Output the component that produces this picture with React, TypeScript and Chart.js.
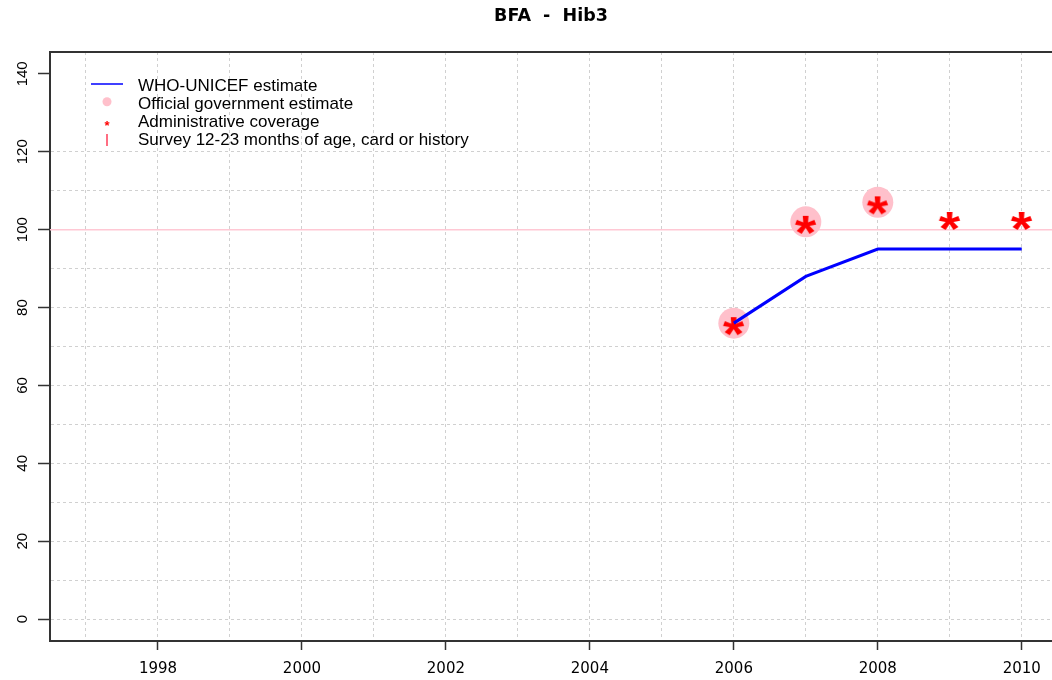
import React, { useEffect, useRef } from "react";
import { Chart, registerables } from "chart.js";

Chart.register(...registerables);

// ---------- data ----------
const chartTitle = "BFA  -  Hib3";
const whoYears = [2006, 2007, 2008, 2009, 2010];
const whoUnicef = [76, 88, 95, 95, 95];
const govYears = [2006, 2007, 2008];
const govEstimate = [76, 102, 107];
const adminYears = [2006, 2007, 2008, 2009, 2010];
const adminCoverage = [76, 102, 107, 103, 103];
const referenceLevel = 100;
const xGridYears = [1997, 1998, 1999, 2000, 2001, 2002, 2003, 2004, 2005, 2006, 2007, 2008, 2009, 2010];
const yGridValues = [0, 10, 20, 30, 40, 50, 60, 70, 80, 90, 100, 110, 120, 130, 140];
const legendLabels = [
  "WHO-UNICEF estimate",
  "Official government estimate",
  "Administrative coverage",
  "Survey 12-23 months of age, card or history",
];

const X_MIN = 1996.5;
const X_MAX = 2010.42;
const Y_MIN = -5.6;
const Y_MAX = 145.6;

const ARIAL = '"Liberation Sans", Arial, sans-serif';
const DEJAVU = '"DejaVu Sans", sans-serif';

function makeAsterisk(): HTMLCanvasElement {
  const c = document.createElement("canvas");
  c.width = 40;
  c.height = 40;
  const ctx = c.getContext("2d")!;
  ctx.fillStyle = "#ff0000";
  ctx.font = `bold 100px ${ARIAL}`;
  const m = ctx.measureText("*");
  const h = m.actualBoundingBoxAscent + m.actualBoundingBoxDescent;
  const size = (100 * 18) / h;
  ctx.font = `bold ${size}px ${ARIAL}`;
  const m2 = ctx.measureText("*");
  const w2 = m2.actualBoundingBoxLeft + m2.actualBoundingBoxRight;
  const sx = 22 / w2;
  const cx = (m2.actualBoundingBoxRight - m2.actualBoundingBoxLeft) / 2;
  const cy = (m2.actualBoundingBoxDescent - m2.actualBoundingBoxAscent) / 2;
  ctx.save();
  ctx.translate(20, 23);
  ctx.scale(sx, 1);
  ctx.textAlign = "left";
  ctx.textBaseline = "alphabetic";
  ctx.fillText("*", -cx, -cy);
  ctx.restore();
  return c;
}

const frameAndLegend = {
  id: "frameAndLegend",
  afterDraw(chart: any) {
    const ctx = chart.ctx as CanvasRenderingContext2D;
    const area = chart.chartArea;
    ctx.save();
    // top frame line
    ctx.strokeStyle = "#333333";
    ctx.lineWidth = 2;
    ctx.beginPath();
    ctx.moveTo(area.left - 1, area.top);
    ctx.lineTo(area.right, area.top);
    ctx.stroke();

    // legend
    const symX = 107;
    const textX = 138;
    const base0 = 91.3;
    const step = 17.8;
    ctx.strokeStyle = "#0000ff";
    ctx.lineWidth = 1.5;
    ctx.beginPath();
    ctx.moveTo(91, 84);
    ctx.lineTo(123, 84);
    ctx.stroke();
    ctx.fillStyle = "#ffc0cb";
    ctx.beginPath();
    ctx.arc(symX, 101.7, 4.5, 0, Math.PI * 2);
    ctx.fill();
    ctx.fillStyle = "#ff0000";
    ctx.font = `bold 13px ${ARIAL}`;
    ctx.textAlign = "center";
    ctx.textBaseline = "alphabetic";
    ctx.fillText("*", symX, 129.5);
    ctx.strokeStyle = "#ff2040";
    ctx.lineWidth = 1.3;
    ctx.beginPath();
    ctx.moveTo(symX, 134);
    ctx.lineTo(symX, 146);
    ctx.stroke();
    ctx.fillStyle = "#000000";
    ctx.font = `17px ${ARIAL}`;
    ctx.textAlign = "left";
    ctx.textBaseline = "alphabetic";
    legendLabels.forEach((t, i) => {
      ctx.fillText(t, textX, base0 + i * step);
    });
    ctx.restore();
  },
};

export default function App() {
  const ref = useRef<HTMLCanvasElement | null>(null);

  useEffect(() => {
    if (!ref.current) return;
    const asterisk = makeAsterisk();
    const chart = new Chart(ref.current, {
      type: "scatter",
      data: {
        datasets: [
          {
            label: legendLabels[0],
            data: whoYears.map((x, i) => ({ x, y: whoUnicef[i] })),
            showLine: true,
            borderColor: "#0000ff",
            borderWidth: 3,
            pointRadius: 0,
            fill: false,
            order: 1,
          },
          {
            label: legendLabels[2],
            data: adminYears.map((x, i) => ({ x, y: adminCoverage[i] })),
            showLine: false,
            pointStyle: asterisk as any,
            pointRadius: 10,
            order: 2,
          },
          {
            label: legendLabels[1],
            data: govYears.map((x, i) => ({ x, y: govEstimate[i] })),
            showLine: false,
            pointStyle: "circle",
            pointRadius: 15.5,
            backgroundColor: "#ffc0cb",
            borderWidth: 0,
            order: 3,
          },
          {
            label: "reference",
            data: [
              { x: X_MIN, y: referenceLevel },
              { x: X_MAX, y: referenceLevel },
            ],
            showLine: true,
            borderColor: "#ffc8d4",
            borderWidth: 1.5,
            pointRadius: 0,
            order: 4,
          },
        ],
      },
      options: {
        responsive: false,
        animation: false,
        devicePixelRatio: 1,
        events: [],
        layout: { autoPadding: false, padding: { left: 0, right: 0, top: 0, bottom: 0 } },
        plugins: {
          legend: { display: false },
          tooltip: { enabled: false },
          title: {
            display: true,
            text: chartTitle,
            fullSize: false,
            color: "#000000",
            font: { family: DEJAVU, size: 17.5, weight: "bold", lineHeight: 1.2 },
            padding: { top: 6, bottom: 25 },
          },
        },
        scales: {
          x: {
            type: "linear",
            min: X_MIN,
            max: X_MAX,
            afterBuildTicks: (s: any) => {
              s.ticks = xGridYears.map((v) => ({ value: v }));
            },
            afterFit: (s: any) => {
              s.height = 39;
              s.paddingLeft = 0;
              s.paddingRight = 0;
            },
            ticks: {
              autoSkip: false,
              maxRotation: 0,
              minRotation: 0,
              padding: 10,
              color: "#000000",
              font: { family: DEJAVU, size: 15 },
              callback: (v: any) => (Number(v) % 2 === 0 ? String(v) : ""),
            },
            grid: {
              color: "#d0d0d0",
              lineWidth: 1,
              tickLength: 9,
              tickWidth: 1.5,
              tickColor: (c: any) =>
                c.tick && c.tick.value % 2 === 0 ? "#333333" : "rgba(0,0,0,0)",
            },
            border: { color: "#333333", width: 2, dash: [3, 3] },
          },
          y: {
            type: "linear",
            min: Y_MIN,
            max: Y_MAX,
            afterBuildTicks: (s: any) => {
              s.ticks = yGridValues.map((v) => ({ value: v }));
            },
            afterFit: (s: any) => {
              s.width = 50;
              s.paddingTop = 0;
              s.paddingBottom = 0;
            },
            ticks: {
              autoSkip: false,
              minRotation: 90,
              maxRotation: 90,
              crossAlign: "center",
              padding: 3,
              color: "#000000",
              font: { family: ARIAL, size: 15 },
              callback: (v: any) => (Number(v) % 20 === 0 ? String(v) : ""),
            },
            grid: {
              color: (c: any) =>
                c.tick && c.tick.value <= 120 ? "#d0d0d0" : "rgba(0,0,0,0)",
              lineWidth: 1,
              tickLength: 12,
              tickWidth: 1.5,
              tickColor: (c: any) =>
                c.tick && c.tick.value % 20 === 0 ? "#333333" : "rgba(0,0,0,0)",
            },
            border: { color: "#333333", width: 2, dash: [3, 3] },
          },
        },
      } as any,
      plugins: [frameAndLegend],
    });
    return () => chart.destroy();
  }, []);

  return (
    <div
      style={{
        position: "fixed",
        left: 0,
        top: 0,
        width: 1052,
        height: 680,
        background: "#ffffff",
      }}
    >
      <canvas ref={ref} width={1052} height={680} style={{ width: 1052, height: 680 }} />
    </div>
  );
}
